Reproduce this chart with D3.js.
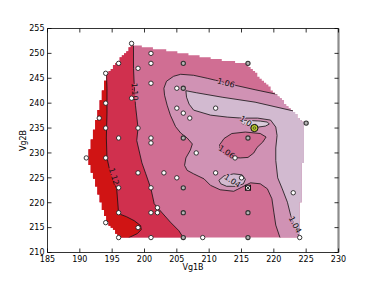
<!DOCTYPE html>
<html>
<head>
<meta charset="utf-8">
<script src="https://cdn.jsdelivr.net/npm/d3@7"></script>
<style>
body { margin: 0; background: #fff; }
svg { display: block; font-family: "DejaVu Sans", sans-serif; }
</style>
</head>
<body>
<svg id="chart" width="376" height="282"></svg>
<script>
// measured points (Vg1B, Vg2B)
var openPts = [[198,252],[201,250],[196,248],[201,248],[199,247],[194,246],[201,244],[205,243],[198,241],
    [194,240],[205,239],[211,239],[206,238],[207,237],[193,237],[194,235],[199,235],[196,233],[201,233],
    [201,232],[191,229],[194,229],[208,230],[214,229],[199,226],[203,226],[211,226],[205,225],[215,225],
    [196,223],[201,223],[223,222],[202,219],[196,218],[201,218],[202,218],[194,216],[199,215],[196,213],
    [201,213],[209,213],[224,213]];
var darkPts = [[206,248],[216,248],[206,243],[225,236],[206,233],[216,233],[206,223],[206,218],[216,218],
    [206,213],[216,213]];
var bestPt = [217,235];
var crossPt = [216,223];

var xTicks = [185,190,195,200,205,210,215,220,225,230];
var yTicks = [210,215,220,225,230,235,240,245,250,255];

// contour lines
var line112 = [[194.1,246.3],[194.2,243],[194.2,238],[194.1,233],[194.2,229],[194.7,226],[195.7,222.8],
    [196,217.8],[197.2,217.2],[198.4,216.4],[199.4,215.4],[199.5,214.6],[198.9,213.8],[197.6,213],[197.4,212]];
var line110 = [[198.3,253],[198.3,247],[198.4,244],[198.6,239.6],[199,235],[198.8,232.5],[199.6,228],
    [200.2,225.8],[201,222.8],[201.5,219.8],[202.3,218.6],[204,216.1],[205.3,214.4],[206,213],[206.3,212]];
var line106 = [[221.8,241.4],[220.4,241.8],[217.1,242.7],[214,243.6],[211,244.6],[209.7,245],[207.6,245.6],
    [205.6,245.8],[204.5,245.4],[203.4,244.4],[203,243],[203.1,241.6],[203.5,239.6],[204,237.6],[204.8,235.3],
    [205.6,234],[206.6,233],[207.4,231.8],[207.1,230.6],[206.4,229],[206.2,227.5],[206.6,226.5],[207.6,225.8],
    [209.2,224.8],[210.2,223.5],[211.7,222.6],[213.8,222.3],[215,223.1],[216.4,224],[217.9,223.8],[219,222.8],
    [219.7,220.8],[220,218.1],[220.3,215.5],[221,212.8],[221.1,212]];
var line104 = [[223.8,238.3],[222.8,238.5],[217.1,240.2],[212,241.2],[208,242.1],[206.4,242.5],[206.5,241.2],
    [206.9,239.8],[207.6,238.6],[210.2,237.6],[212.8,237.2],[215,237],[217.5,237],[219.5,236.6],[220.3,235.2],
    [220.5,233.5],[220.3,231],[220.3,228.5],[220.6,225],[221.3,222.8],[222.1,220.1],[222.6,217.5],[223.3,214.8],
    [224,213],[224.2,212]];
var island106 = [[211.6,231.6],[211.7,230.8],[212.3,229.8],[213.3,229.1],[214.8,229],[216,229.1],[216.9,230],
    [217.4,231.1],[218.3,232.2],[218.8,233.2],[217.9,233.9],[215.6,234.2],[213.5,233.9],[212.3,232.9]];
var bump104 = [[211.5,224.5],[212.3,225.4],[213.8,225.8],[215.1,225.6],[215.6,224.7],[215.3,223.8],
    [214.2,223.3],[212.7,223.3],[211.8,223.8]];
var pocket = [[214.8,236.6],[216.4,236.5],[217.9,236.4],[219,236.2],[219.3,235.8],[218.7,235.4],[217.6,235.2],
    [216.2,235.4],[215.1,235.9]];

var labels = [
    {text: "1.12", at: [195.3,225.3], rot: 73},
    {text: "1.10", at: [198.5,242.3], rot: 87},
    {text: "1.06", at: [212.6,244.1], rot: 15},
    {text: "1.06", at: [212.7,230.2], rot: 33},
    {text: "1.04", at: [213.6,224.4], rot: 33},
    {text: "1.04", at: [223.3,215.6], rot: 62},
    {text: "1.04", at: [216,236.1], rot: 33}
];

var colors = {
    darkRed: "#d01414", crimson: "#d0304e", mid: "#d06e93",
    light: "#d092b4", lavender: "#d2bad0", pale: "#dacbda"
};

var svg = d3.select("#chart");
var x = d3.scaleLinear().domain([185,230]).range([47.5,338.5]);
var y = d3.scaleLinear().domain([210,255]).range([252.5,28.5]);
var xd = x.domain(), yd = y.domain();

var path = d3.line().x(function(d) { return x(d[0]); }).y(function(d) { return y(d[1]); });
var closedPath = function(pts) { return path(pts) + "Z"; };

// staircase outline: grid cells fully inside the hull of the measured points
var allPts = openPts.concat(darkPts, [bestPt, crossPt]);
var hull = d3.polygonHull(allPts);
var hc = d3.polygonCentroid(hull);
var inside = function(px, py) {
    return d3.polygonContains(hull, [hc[0] + (px - hc[0]) * 0.999, hc[1] + (py - hc[1]) * 0.999]);
};
var xs = d3.extent(allPts, function(d) { return d[0]; });
var ys = d3.extent(allPts, function(d) { return d[1]; });
var n = 100, dx = (xs[1] - xs[0]) / (n - 1), dy = (ys[1] - ys[0]) / (n - 1);

var rows = [];
for (var j = n - 2; j >= 0; j--) {
    var y0 = ys[0] + j * dy, y1 = y0 + dy;
    var i0 = -1, i1 = -1;
    for (var i = 0; i < n - 1; i++) {
        var x0 = xs[0] + i * dx, x1 = x0 + dx;
        if (inside(x0, y0) && inside(x1, y0) && inside(x0, y1) && inside(x1, y1)) {
            if (i0 < 0) i0 = i;
            i1 = i;
        }
    }
    if (i0 >= 0) rows.push({top: y1, bot: y0, l: xs[0] + i0 * dx, r: xs[0] + (i1 + 1) * dx});
}
var stair = [];
rows.forEach(function(r) { stair.push([r.l, r.top], [r.l, r.bot]); });
rows.slice().reverse().forEach(function(r) { stair.push([r.r, r.bot], [r.r, r.top]); });

var defs = svg.append("defs");
defs.append("clipPath").attr("id", "hullClip").append("path").attr("d", closedPath(stair));

// mask that breaks contour lines under their labels
var mask = defs.append("mask").attr("id", "labelMask").attr("maskUnits", "userSpaceOnUse")
    .attr("x", 0).attr("y", 0).attr("width", 376).attr("height", 282);
mask.append("rect").attr("width", 376).attr("height", 282).attr("fill", "#fff");

var leftClose = function(pts) {
    var f = pts[0], l = pts[pts.length - 1];
    return pts.concat([[l[0], yd[0]], [xd[0], yd[0]], [xd[0], yd[1]], [f[0], yd[1]]]);
};
var rightClose = function(pts) {
    var f = pts[0];
    return pts.concat([[xd[1], yd[0]], [xd[1], f[1]]]);
};

var fills = svg.append("g").attr("clip-path", "url(#hullClip)");
fills.append("rect").attr("x", x(xd[0])).attr("y", y(yd[1]))
    .attr("width", x(xd[1]) - x(xd[0])).attr("height", y(yd[0]) - y(yd[1]))
    .attr("fill", colors.mid);
fills.append("path").attr("d", closedPath(leftClose(line110))).attr("fill", colors.crimson);
fills.append("path").attr("d", closedPath(leftClose(line112))).attr("fill", colors.darkRed);
fills.append("path").attr("d", closedPath(rightClose(line106))).attr("fill", colors.light);
fills.append("path").attr("d", closedPath(island106)).attr("fill", colors.mid);
fills.append("path").attr("d", closedPath(rightClose(line104))).attr("fill", colors.lavender);
fills.append("path").attr("d", closedPath(bump104)).attr("fill", colors.lavender);
fills.append("path").attr("d", closedPath(pocket)).attr("fill", colors.pale);

var lineWrap = svg.append("g").attr("clip-path", "url(#hullClip)");
var lines = lineWrap.append("g").attr("mask", "url(#labelMask)")
    .attr("fill", "none").attr("stroke", "#111").attr("stroke-width", 0.8);
[line112, line110, line106, line104].forEach(function(l) {
    lines.append("path").attr("d", path(l));
});
[island106, bump104, pocket].forEach(function(l) {
    lines.append("path").attr("d", closedPath(l));
});

labels.forEach(function(l) {
    var tr = "translate(" + x(l.at[0]) + "," + y(l.at[1]) + ") rotate(" + l.rot + ")";
    mask.append("text").attr("transform", tr).attr("text-anchor", "middle").attr("dy", "0.35em")
        .attr("font-size", 8).attr("fill", "#000").attr("stroke", "#000").attr("stroke-width", 2.5)
        .text(l.text);
    svg.append("text").attr("transform", tr).attr("text-anchor", "middle").attr("dy", "0.35em")
        .attr("font-size", 8).attr("fill", "#111").text(l.text);
});

// points
svg.selectAll("circle.open").data(openPts).enter().append("circle")
    .attr("cx", function(d) { return x(d[0]); }).attr("cy", function(d) { return y(d[1]); })
    .attr("r", 2.2).attr("fill", "#fff").attr("stroke", "#222").attr("stroke-width", 0.9);
svg.selectAll("circle.dark").data(darkPts).enter().append("circle")
    .attr("cx", function(d) { return x(d[0]); }).attr("cy", function(d) { return y(d[1]); })
    .attr("r", 2.1).attr("fill", "#b4b4b4").attr("stroke", "#333").attr("stroke-width", 1.1);
svg.append("circle").attr("cx", x(bestPt[0])).attr("cy", y(bestPt[1])).attr("r", 3.6)
    .attr("fill", "#b8cc28").attr("stroke", "#111").attr("stroke-width", 1);
svg.append("circle").attr("cx", x(bestPt[0])).attr("cy", y(bestPt[1])).attr("r", 1.3)
    .attr("fill", "none").attr("stroke", "#333").attr("stroke-width", 0.7);
svg.append("rect").attr("x", x(crossPt[0]) - 2.5).attr("y", y(crossPt[1]) - 2.5)
    .attr("width", 5).attr("height", 5).attr("fill", "#fff").attr("stroke", "#111").attr("stroke-width", 1);
svg.append("path")
    .attr("d", "M" + (x(crossPt[0]) - 2) + "," + (y(crossPt[1]) - 2) + "l4,4M" + (x(crossPt[0]) + 2) + "," + (y(crossPt[1]) - 2) + "l-4,4")
    .attr("stroke", "#111").attr("stroke-width", 1);

// frame and ticks
var axes = svg.append("g").attr("stroke", "#000").attr("stroke-width", 0.8);
axes.append("line").attr("x1", x(xd[0])).attr("x2", x(xd[1])).attr("y1", y(yd[1])).attr("y2", y(yd[1]));
axes.append("line").attr("x1", x(xd[0])).attr("x2", x(xd[1])).attr("y1", y(yd[0])).attr("y2", y(yd[0]));
axes.append("line").attr("x1", x(xd[0])).attr("x2", x(xd[0])).attr("y1", y(yd[0])).attr("y2", y(yd[1]));
axes.append("line").attr("x1", x(xd[1])).attr("x2", x(xd[1])).attr("y1", y(yd[0])).attr("y2", y(yd[1]))
    .attr("stroke", "#8c8c8c").attr("stroke-width", 2.2);
xTicks.forEach(function(t) {
    axes.append("line").attr("x1", x(t)).attr("x2", x(t)).attr("y1", y(yd[0])).attr("y2", y(yd[0]) - 4);
    axes.append("line").attr("x1", x(t)).attr("x2", x(t)).attr("y1", y(yd[1])).attr("y2", y(yd[1]) + 4);
});
yTicks.forEach(function(t) {
    axes.append("line").attr("x1", x(xd[0])).attr("x2", x(xd[0]) + 4).attr("y1", y(t)).attr("y2", y(t));
    axes.append("line").attr("x1", x(xd[1])).attr("x2", x(xd[1]) - 4).attr("y1", y(t)).attr("y2", y(t));
});

svg.selectAll("text.xt").data(xTicks).enter().append("text")
    .attr("x", function(d) { return x(d); }).attr("y", 261.5)
    .attr("text-anchor", "middle").attr("font-size", 8).text(function(d) { return d; });
svg.selectAll("text.yt").data(yTicks).enter().append("text")
    .attr("x", 44.5).attr("y", function(d) { return y(d); }).attr("dy", "0.35em")
    .attr("text-anchor", "end").attr("font-size", 8).text(function(d) { return d; });

svg.append("text").attr("x", (x(xd[0]) + x(xd[1])) / 2).attr("y", 270)
    .attr("text-anchor", "middle").attr("font-size", 8).text("Vg1B");
svg.append("text").attr("transform", "translate(26," + (y(yd[0]) + y(yd[1])) / 2 + ") rotate(-90)")
    .attr("text-anchor", "middle").attr("font-size", 8).text("Vg2B");
</script>
</body>
</html>
